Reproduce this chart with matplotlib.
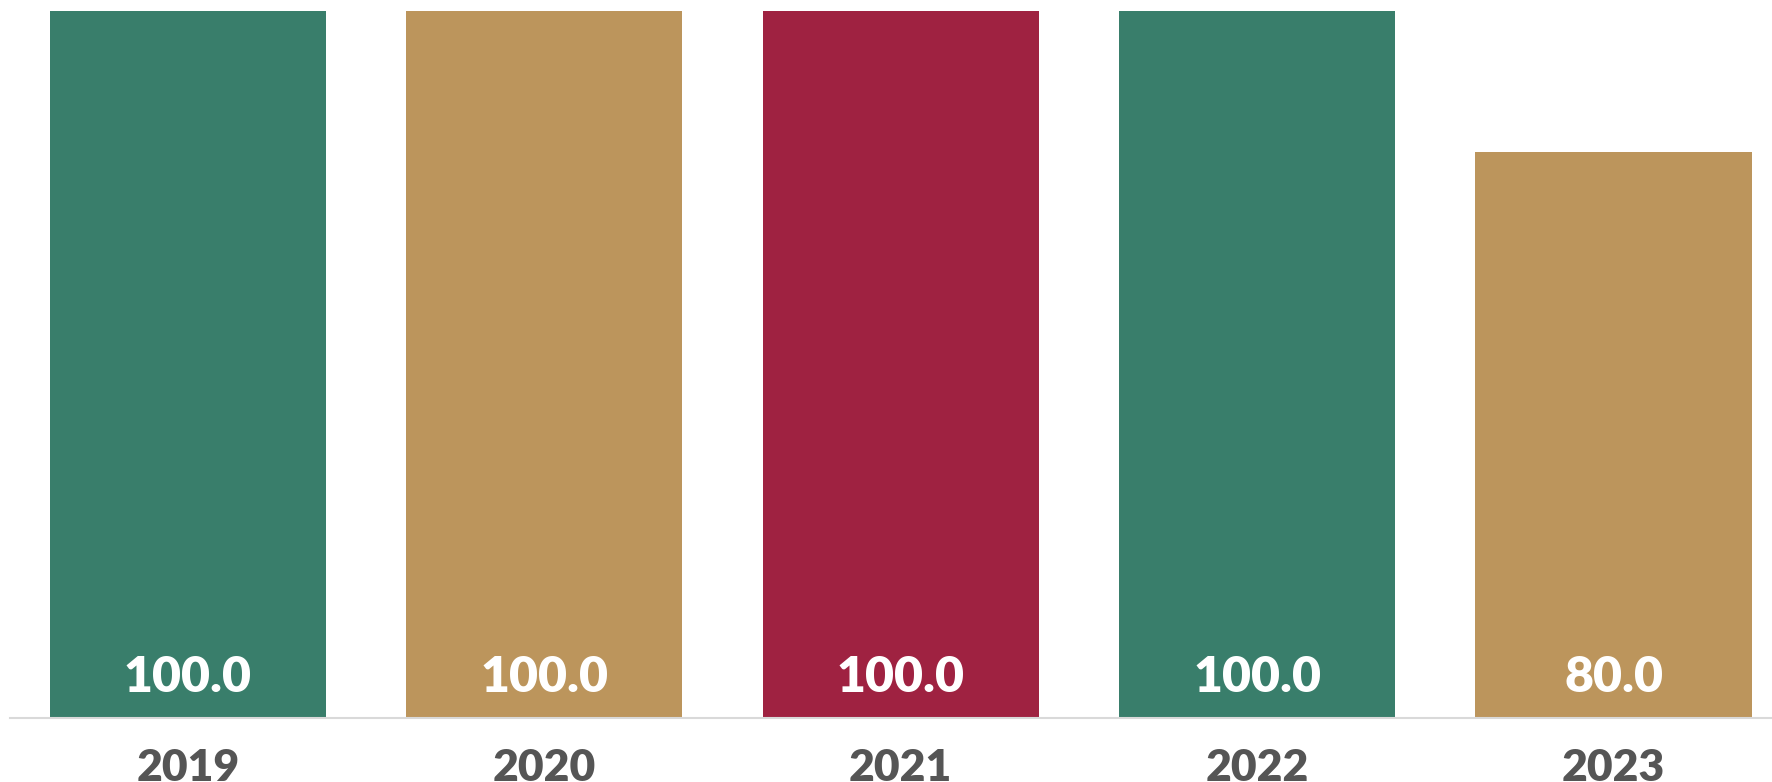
"""Bar chart: yearly values 2019-2023"""
import matplotlib.pyplot as plt

years = ['2019', '2020', '2021', '2022', '2023']
values = [100.0, 100.0, 100.0, 100.0, 80.0]
bar_colors = ['#397E6B', '#BC955C', '#9F2241', '#397E6B', '#BC955C']

fig = plt.figure(figsize=(17.72, 7.82), dpi=100)
fig.patch.set_facecolor('white')
ax = fig.add_axes([10 / 1772, 64.5 / 782, 1762 / 1772, 706.5 / 782])

x = list(range(len(years)))
ax.bar(x, values, width=0.775, color=bar_colors)

for xi, v in zip(x, values):
    ax.text(xi, 5.6, f'{v:.1f}', ha='center', va='center', color='white',
            fontsize=36, fontweight='heavy', family='Lato')

ax.set_xlim(-0.4994, 4.4447)
ax.set_ylim(0, 100)
ax.set_xticks(x)
ax.set_xticklabels(years, fontsize=32, fontweight='heavy', color='#555555', family='Lato')
ax.tick_params(axis='x', length=0, pad=22)
ax.set_yticks([])

for s in ['top', 'right', 'left']:
    ax.spines[s].set_visible(False)
ax.spines['bottom'].set_color('#D9D9D9')
ax.spines['bottom'].set_linewidth(1.5)

plt.savefig('out.png', dpi=100, facecolor='white')
plt.close()
